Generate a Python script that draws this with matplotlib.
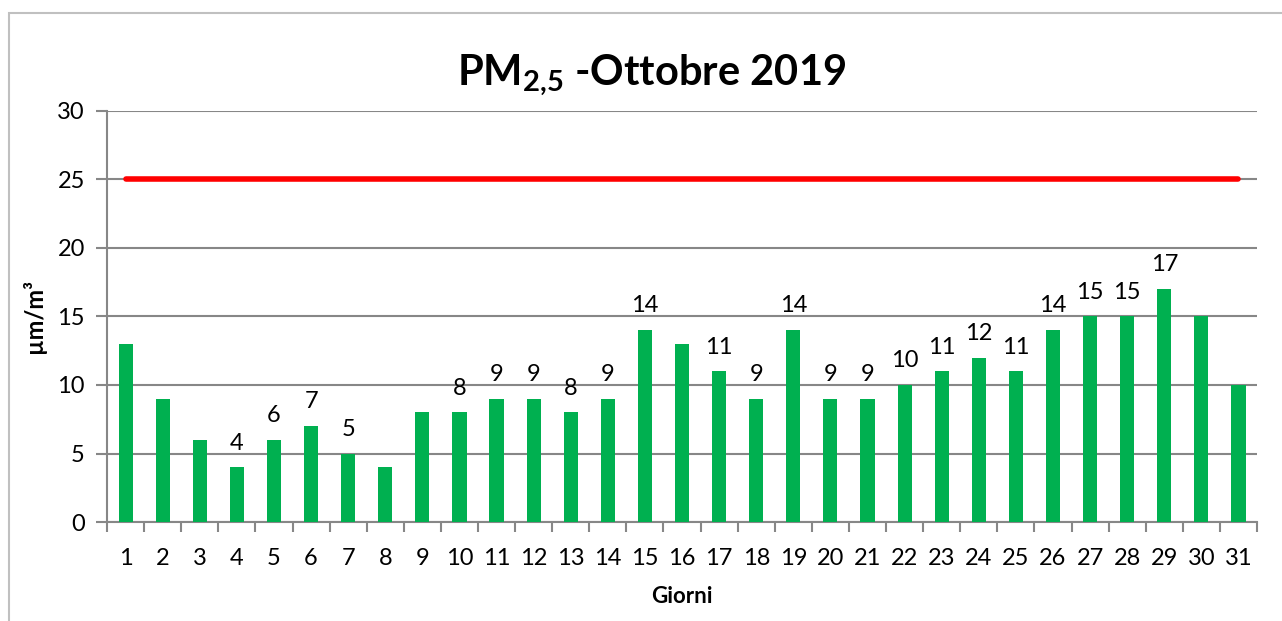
import numpy as np
import matplotlib.pyplot as plt
from matplotlib.patches import Rectangle

plt.rcParams['font.family'] = ['Lato', 'DejaVu Sans']
plt.rcParams['mathtext.fontset'] = 'custom'
plt.rcParams['mathtext.rm'] = 'Lato'
plt.rcParams['mathtext.bf'] = 'Lato:bold'

# dati
giorni = list(range(1, 32))
pm25 = [13, 9, 6, 4, 6, 7, 5, 4, 8, 8, 9, 9, 8, 9, 14, 13, 11, 9, 14, 9,
        9, 10, 11, 12, 11, 14, 15, 15, 17, 15, 10]
# giorni con etichetta del valore
con_etichetta = [4, 5, 6, 7, 10, 11, 12, 13, 14, 15, 17, 18, 19, 20, 21, 22,
                 23, 24, 25, 26, 27, 28, 29]
limite = 25
y_ticks = [0, 5, 10, 15, 20, 25, 30]

fig = plt.figure(figsize=(12.82, 6.21), dpi=100)
ax = fig.add_axes([0.0835, 0.1594, 0.897, 0.6619])

# cornice grigia del grafico
fig.patches.append(Rectangle((9 / 1282, -0.1), 1.2, 0.1 + (621 - 13) / 621,
                             transform=fig.transFigure, fill=False,
                             edgecolor='#c0c0c0', linewidth=1.5))

x = np.array(giorni)
ax.bar(x, pm25, width=0.38, color='#00B050', zorder=3)
ax.plot(x, [limite] * len(x), color='#FF0000', linewidth=4,
        solid_capstyle='round', zorder=4)

for g, v in zip(giorni, pm25):
    if g in con_etichetta:
        ax.text(g, v + 1.0, str(v), ha='center', va='bottom', fontsize=17)

ax.set_xlim(0.5, 31.5)
ax.set_ylim(0, 30)
ax.set_yticks(y_ticks)
ax.set_xticks(x)
ax.set_xticklabels([str(g) for g in giorni])
ax.set_xticks(np.arange(0.5, 32, 1), minor=True)
ax.tick_params(axis='x', which='major', length=0, pad=19, labelsize=17)
ax.tick_params(axis='x', which='minor', length=7, width=1.5, color='#878787')
ax.tick_params(axis='y', length=8, width=1.5, color='#878787', pad=8,
               labelsize=17)

ax.grid(axis='y', color='#878787', linewidth=1.5, zorder=0)
for s in ['top', 'right']:
    ax.spines[s].set_visible(False)
for s in ['left', 'bottom']:
    ax.spines[s].set_color('#878787')
    ax.spines[s].set_linewidth(1.5)

ax.set_xlabel('Giorni', fontsize=16, fontweight='bold', labelpad=12)
ax.set_ylabel('µm/m³', fontsize=17, fontweight='bold', labelpad=8)
fig.text(0.508, 0.88, r'$\mathbf{PM_{2{,}5}}$ -Ottobre 2019', ha='center',
         va='center', fontsize=30, fontweight='bold')

fig.savefig('out.png', dpi=100)
